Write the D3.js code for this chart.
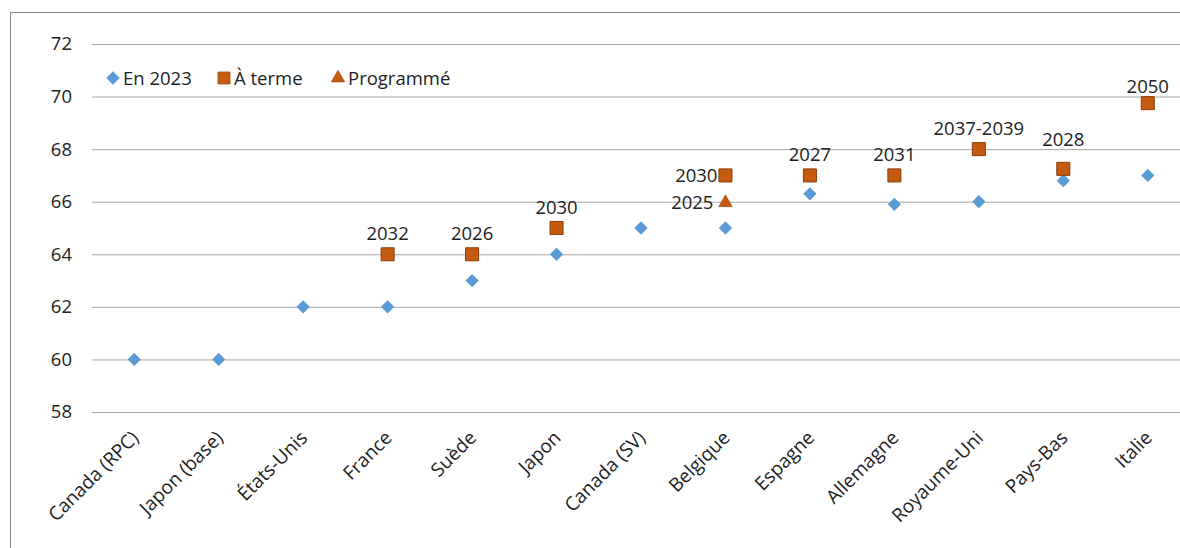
<!DOCTYPE html>
<html>
<head>
<meta charset="utf-8">
<script src="https://cdn.jsdelivr.net/npm/d3@7"></script>
<style>
  body { margin: 0; background: #fff; }
  text { font-family: "Open Sans", sans-serif; fill: #222; }
</style>
</head>
<body>
<div id="chart"></div>
<script>
// categories and values
var pays = ["Canada (RPC)", "Japon (base)", "États-Unis", "France", "Suède", "Japon",
            "Canada (SV)", "Belgique", "Espagne", "Allemagne", "Royaume-Uni", "Pays-Bas", "Italie"];
var en2023 = [60, 60, 62, 62, 63, 64, 65, 65, 66.3, 65.9, 66, 66.8, 67];
var aTerme = [null, null, null, 64, 64, 65, null, 67, 67, 67, 68, 67.25, 69.75];
var aTermeAnnee = [null, null, null, "2032", "2026", "2030", null, "2030", "2027", "2031", "2037-2039", "2028", "2050"];
var programme = [null, null, null, null, null, null, null, 66, null, null, null, null, null];
var programmeAnnee = [null, null, null, null, null, null, null, "2025", null, null, null, null, null];
var yTicks = [58, 60, 62, 64, 66, 68, 70, 72];

var width = 1180, height = 548;
var margin = {top: 44, right: -10, bottom: 136, left: 92};
var fs = 18.5;

var svg = d3.select("#chart")
  .append("svg")
    .attr("width", width)
    .attr("height", height);

// outer frame (right and bottom edges fall outside the picture)
svg.append("rect")
    .attr("x", 10.5).attr("y", 12.5)
    .attr("width", 1200).attr("height", 600)
    .attr("fill", "none")
    .attr("stroke", "#8c8c8c");

var x = d3.scalePoint()
    .domain(pays)
    .range([margin.left, width - margin.right])
    .padding(0.5);

var y = d3.scaleLinear()
    .domain([58, 72])
    .range([height - margin.bottom, margin.top]);

// gridlines + y labels
var yAxis = svg.append("g")
    .attr("transform", "translate(" + margin.left + ",0)")
    .call(d3.axisLeft(y).tickValues(yTicks).tickSize(-(width - margin.left - margin.right)).tickPadding(20).tickFormat(d3.format("d")));
yAxis.select(".domain").remove();
yAxis.selectAll("line").attr("stroke", "#a6a6a6");
yAxis.selectAll("text").attr("font-size", fs).attr("fill", "#222").attr("font-family", "Open Sans, sans-serif");

// x labels rotated
var xAxis = svg.append("g")
    .attr("transform", "translate(0," + (height - margin.bottom) + ")")
    .call(d3.axisBottom(x).tickSize(0).tickPadding(0));
xAxis.select(".domain").remove();
xAxis.selectAll("text")
    .attr("font-size", 19)
    .attr("fill", "#222")
    .attr("font-family", "Open Sans, sans-serif")
    .attr("text-anchor", "end")
    .attr("dy", 0)
    .attr("transform", "translate(5,27) rotate(-45)");

var blue = "#5b9bd5", orange = "#c55a11", orangeEdge = "#8b3e0c";

var diamond = d3.symbol().type(d3.symbolSquare).size(88);
var square = d3.symbol().type(d3.symbolSquare).size(170);
var triangle = d3.symbol().type(d3.symbolTriangle).size(80);

// En 2023
svg.append("g").selectAll("path")
  .data(en2023)
  .enter().append("path")
    .attr("d", diamond)
    .attr("transform", function(d, i) { return "translate(" + x(pays[i]) + "," + y(d) + ") rotate(45)"; })
    .attr("fill", blue);

// À terme
var termeData = pays.map(function(p, i) { return {p: p, v: aTerme[i], a: aTermeAnnee[i]}; }).filter(function(d) { return d.v != null; });
svg.append("g").selectAll("path")
  .data(termeData)
  .enter().append("path")
    .attr("d", square)
    .attr("transform", function(d) { return "translate(" + x(d.p) + "," + y(d.v) + ")"; })
    .attr("fill", orange)
    .attr("stroke", orangeEdge);

// Programmé
var progData = pays.map(function(p, i) { return {p: p, v: programme[i], a: programmeAnnee[i]}; }).filter(function(d) { return d.v != null; });
svg.append("g").selectAll("path")
  .data(progData)
  .enter().append("path")
    .attr("d", triangle)
    .attr("transform", function(d) { return "translate(" + x(d.p) + "," + (y(d.v) + 1) + ")"; })
    .attr("fill", orange)
    .attr("stroke", orangeEdge)
    .attr("stroke-width", 0.5);

// data labels: above the square, except Belgique (to the left)
svg.append("g").selectAll("text")
  .data(termeData)
  .enter().append("text")
    .attr("font-size", fs)
    .attr("text-anchor", function(d) { return d.p == "Belgique" ? "end" : "middle"; })
    .attr("x", function(d) { return d.p == "Belgique" ? x(d.p) - 8 : x(d.p); })
    .attr("y", function(d) {
      if (d.p == "Belgique") return y(d.v) + 7;
      if (d.p == "Pays-Bas") return y(d.v) - 23;
      if (d.p == "Italie") return y(d.v) - 10;
      return y(d.v) - 14;
    })
    .text(function(d) { return d.a; });

svg.append("g").selectAll("text")
  .data(progData)
  .enter().append("text")
    .attr("font-size", fs)
    .attr("text-anchor", "end")
    .attr("x", function(d) { return x(d.p) - 12; })
    .attr("y", function(d) { return y(d.v) + 7; })
    .text(function(d) { return d.a; });

// legend
var legend = svg.append("g").attr("transform", "translate(105,78)");
var items = [
  {label: "En 2023", sym: diamond, rot: 45, fill: blue, x: 8},
  {label: "À terme", sym: square, rot: 0, fill: orange, x: 119, size: 150},
  {label: "Programmé", sym: triangle, rot: 0, fill: orange, x: 233}
];
items.forEach(function(it) {
  legend.append("path")
    .attr("d", it.size ? d3.symbol().type(d3.symbolSquare).size(it.size) : it.sym)
    .attr("transform", "translate(" + it.x + "," + 0 + ") rotate(" + it.rot + ")")
    .attr("fill", it.fill)
    .attr("stroke", it.fill == orange ? orangeEdge : "none")
    .attr("stroke-width", 0.5);
  legend.append("text")
    .attr("x", it.x + 10)
    .attr("y", 6.5)
    .attr("font-size", fs)
    .text(it.label);
});
</script>
</body>
</html>
